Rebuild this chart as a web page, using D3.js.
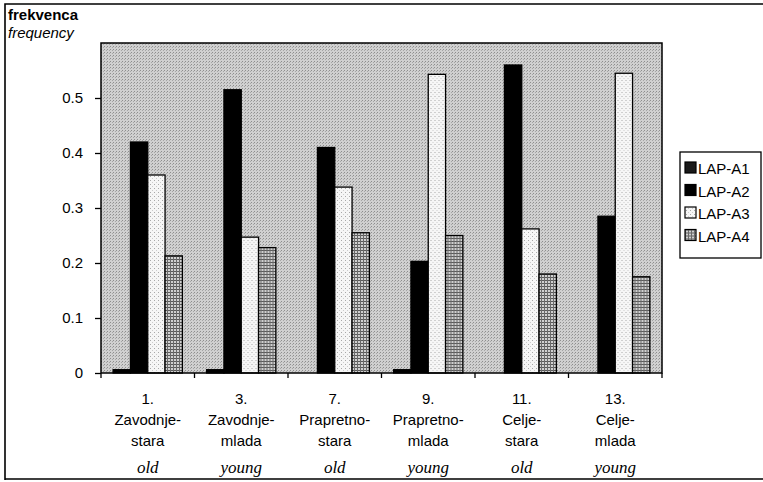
<!DOCTYPE html>
<html>
<head>
<meta charset="utf-8">
<script src="https://cdn.jsdelivr.net/npm/d3@7"></script>
<style>
  body { margin: 0; background: #fff; }
  svg { display: block; }
  text { font-family: Arial, "Liberation Sans", sans-serif; fill: #000; }
  .axis path, .axis line { stroke: #000; stroke-width: 1.3; }
  .axis text { font-size: 15px; }
</style>
</head>
<body>
<div id="chart"></div>
<script>

// data
var groups = ["1", "3", "7", "9", "11", "13"];
var groupNum = ["1.", "3.", "7.", "9.", "11.", "13."];
var groupLine1 = ["Zavodnje-", "Zavodnje-", "Prapretno-", "Prapretno-", "Celje-", "Celje-"];
var groupLine2 = ["stara", "mlada", "stara", "mlada", "stara", "mlada"];
var groupAge = ["old", "young", "old", "young", "old", "young"];

var series = ["LAP-A1", "LAP-A2", "LAP-A3", "LAP-A4"];
var lapA1 = [0.006, 0.006, 0.0, 0.006, 0.0, 0.0];
var lapA2 = [0.42, 0.515, 0.41, 0.203, 0.56, 0.285];
var lapA3 = [0.36, 0.247, 0.338, 0.543, 0.262, 0.545];
var lapA4 = [0.213, 0.228, 0.255, 0.25, 0.18, 0.175];

var yTicks = [0, 0.1, 0.2, 0.3, 0.4, 0.5];

var values = [lapA1, lapA2, lapA3, lapA4];

var W = 763, H = 482;
var margin = { top: 43, right: 101, bottom: 109, left: 101 };
var width = W - margin.left - margin.right,
    height = H - margin.top - margin.bottom;

var svg = d3.select("#chart")
    .append("svg")
    .attr("width", W)
    .attr("height", H);

// patterns for the scanned grey fills
var defs = svg.append("defs");

var bg = defs.append("pattern")
    .attr("id", "bg").attr("width", 3).attr("height", 3)
    .attr("patternUnits", "userSpaceOnUse");
bg.append("rect").attr("width", 3).attr("height", 3).attr("fill", "#d0d0d0");
bg.append("rect").attr("x", 0).attr("y", 0).attr("width", 1).attr("height", 1).attr("fill", "#8e8e8e");
bg.append("rect").attr("x", 2).attr("y", 1).attr("width", 1).attr("height", 1).attr("fill", "#a6a6a6");

var dots = defs.append("pattern")
    .attr("id", "dots").attr("width", 4).attr("height", 4)
    .attr("patternUnits", "userSpaceOnUse");
dots.append("rect").attr("width", 4).attr("height", 4).attr("fill", "#f6f6f6");
dots.append("rect").attr("x", 1).attr("y", 1).attr("width", 1).attr("height", 1).attr("fill", "#a8a8a8");
dots.append("rect").attr("x", 3).attr("y", 3).attr("width", 1).attr("height", 1).attr("fill", "#cccccc");

var grid = defs.append("pattern")
    .attr("id", "grid").attr("width", 3).attr("height", 3)
    .attr("patternUnits", "userSpaceOnUse");
grid.append("rect").attr("width", 3).attr("height", 3).attr("fill", "#d0d0d0");
grid.append("rect").attr("x", 0).attr("y", 0).attr("width", 3).attr("height", 1).attr("fill", "#5a5a5a");
grid.append("rect").attr("x", 0).attr("y", 0).attr("width", 1).attr("height", 3).attr("fill", "#6a6a6a");

var fills = ["#000", "#000", "url(#dots)", "url(#grid)"];
var legendFills = ["#1a1a1a", "#000", "url(#dots)", "url(#grid)"];

// outer frame
svg.append("path")
    .attr("d", "M5,480 L5,4 L770,4 M5,479 L770,479")
    .attr("fill", "none")
    .attr("stroke", "#000")
    .attr("stroke-width", 1.6);

// axis title
svg.append("text")
    .text("frekvenca")
    .attr("x", 8).attr("y", 20)
    .style("font-size", "15px").style("font-weight", "bold");
svg.append("text")
    .text("frequency")
    .attr("x", 8).attr("y", 38)
    .style("font-size", "15px").style("font-style", "italic");

var g = svg.append("g")
    .attr("transform", "translate(" + margin.left + "," + margin.top + ")");

var x0 = d3.scaleBand().domain(groups).range([0, width]).padding(0);
var x1 = d3.scaleBand().domain(series).range([0, x0.bandwidth()])
    .paddingInner(0).paddingOuter(0.7);
var y = d3.scaleLinear().domain([0, 0.6]).range([height, 0]);

g.append("rect")
    .attr("width", width).attr("height", height)
    .attr("fill", "url(#bg)");

// bars
var barGroups = g.selectAll(".grp")
    .data(groups)
    .enter()
    .append("g")
    .attr("class", "grp")
    .attr("transform", function (d) { return "translate(" + x0(d) + ",0)"; });

barGroups.selectAll("rect")
    .data(function (d, i) {
        return series.map(function (s, j) { return { s: s, j: j, v: values[j][i] }; });
    })
    .enter()
    .filter(function (d) { return d.v > 0; })
    .append("rect")
    .attr("x", function (d) { return x1(d.s); })
    .attr("y", function (d) { return y(d.v); })
    .attr("width", x1.bandwidth())
    .attr("height", function (d) { return height - y(d.v); })
    .attr("fill", function (d) { return fills[d.j]; })
    .attr("stroke", "#000")
    .attr("stroke-width", 1.3);

// plot frame
g.append("rect")
    .attr("width", width).attr("height", height)
    .attr("fill", "none").attr("stroke", "#000").attr("stroke-width", 1.5);

// y axis
g.append("g")
    .attr("class", "axis axis-y")
    .call(d3.axisLeft(y).tickValues(yTicks).tickSize(6).tickPadding(12)
        .tickFormat(function (d) { return d === 0 ? "0" : d3.format(".1f")(d); }))
    .call(function (a) { a.select(".domain").remove(); });

// x axis ticks at group boundaries
var bounds = groups.map(function (d) { return x0(d); }).concat([width]);
g.selectAll(".xtick")
    .data(bounds)
    .enter()
    .append("line")
    .attr("x1", function (d) { return d; })
    .attr("x2", function (d) { return d; })
    .attr("y1", height)
    .attr("y2", height + 5)
    .attr("stroke", "#000")
    .attr("stroke-width", 1.3);

// x labels
var lbl = g.selectAll(".xlabel")
    .data(groups)
    .enter()
    .append("g")
    .attr("class", "xlabel")
    .attr("transform", function (d) { return "translate(" + (x0(d) + x0.bandwidth() / 2) + "," + height + ")"; });

lbl.append("text").text(function (d, i) { return groupNum[i]; })
    .attr("y", 31).style("text-anchor", "middle").style("font-size", "15px");
lbl.append("text").text(function (d, i) { return groupLine1[i]; })
    .attr("y", 52).style("text-anchor", "middle").style("font-size", "15px");
lbl.append("text").text(function (d, i) { return groupLine2[i]; })
    .attr("y", 73).style("text-anchor", "middle").style("font-size", "15px");
lbl.append("text").text(function (d, i) { return groupAge[i]; })
    .attr("y", 100).style("text-anchor", "middle")
    .style("font-family", "'Liberation Serif', 'DejaVu Serif', serif")
    .style("font-style", "italic").style("font-size", "17px");

// legend
var legend = svg.append("g")
    .attr("transform", "translate(680,152)");

legend.append("rect")
    .attr("width", 81).attr("height", 106)
    .attr("fill", "#fff").attr("stroke", "#000").attr("stroke-width", 1.3);

var items = legend.selectAll(".leg")
    .data(series)
    .enter()
    .append("g")
    .attr("class", "leg")
    .attr("transform", function (d, i) { return "translate(5," + (16 + i * 22.5) + ")"; });

items.append("rect")
    .attr("x", 0).attr("y", -6)
    .attr("width", 11).attr("height", 11)
    .attr("fill", function (d, i) { return legendFills[i]; })
    .attr("stroke", "#000").attr("stroke-width", 1.2);

items.append("text")
    .text(function (d) { return d; })
    .attr("x", 13).attr("y", 6)
    .style("font-size", "15px");

</script>
</body>
</html>
